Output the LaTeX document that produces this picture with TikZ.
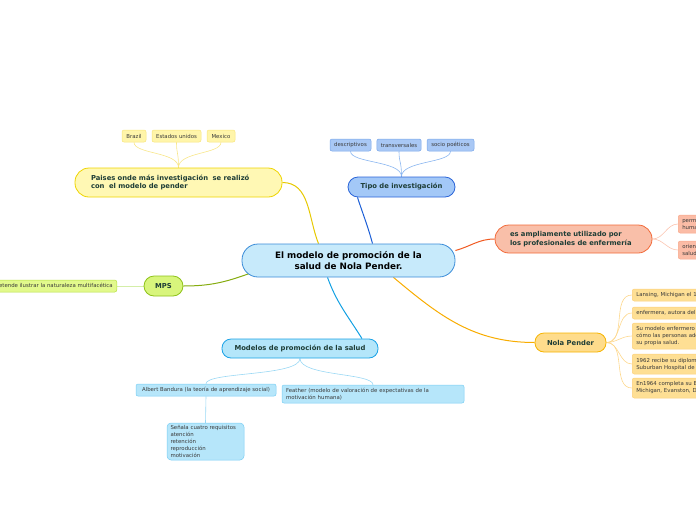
\documentclass[tikz,border=0pt]{standalone}
\usepackage{fontspec}
\setmainfont{DejaVu Sans}
\usetikzlibrary{backgrounds}

\definecolor{topictext}{HTML}{1E3D36}
\definecolor{leaftext}{HTML}{3A3A3A}
\definecolor{centrefill}{HTML}{C7EAFB}
\definecolor{centreline}{HTML}{3A8CD8}
\definecolor{tipofill}{HTML}{A3C8F7}
\definecolor{tipoline}{HTML}{2A64D8}
\definecolor{tipolink}{HTML}{1D5FD6}
\definecolor{tipoleaf}{HTML}{A9C8F5}
\definecolor{tipoleafline}{HTML}{78A6EA}
\definecolor{tipobranch}{HTML}{8AB6F0}
\definecolor{paisfill}{HTML}{FFF8B4}
\definecolor{paisline}{HTML}{EED400}
\definecolor{paislink}{HTML}{E6C800}
\definecolor{paisleaf}{HTML}{FFF5AA}
\definecolor{paisleafline}{HTML}{F8E47A}
\definecolor{paisbranch}{HTML}{F8E68A}
\definecolor{ampfill}{HTML}{F9BFA9}
\definecolor{ampline}{HTML}{F26A3A}
\definecolor{amplink}{HTML}{F05A22}
\definecolor{ampleaf}{HTML}{FBBCA6}
\definecolor{ampleafline}{HTML}{F8A88A}
\definecolor{ampbranch}{HTML}{FBC4B0}
\definecolor{nolafill}{HTML}{FEDC8C}
\definecolor{nolaline}{HTML}{F6B400}
\definecolor{nolalink}{HTML}{F8AC00}
\definecolor{nolaleaf}{HTML}{FEDF94}
\definecolor{nolaleafline}{HTML}{FDD07A}
\definecolor{nolabranch}{HTML}{FDD88E}
\definecolor{mpsfill}{HTML}{D8F57C}
\definecolor{mpsline}{HTML}{8EC21A}
\definecolor{mpslink}{HTML}{86AC10}
\definecolor{mpsleaf}{HTML}{E2F98C}
\definecolor{mpsleafline}{HTML}{B4E040}
\definecolor{mpsbranch}{HTML}{D4EEA8}
\definecolor{modfill}{HTML}{B4E6FA}
\definecolor{modline}{HTML}{1AA2E6}
\definecolor{modlink}{HTML}{12A0E2}
\definecolor{modleaf}{HTML}{B6E6FA}
\definecolor{modleafline}{HTML}{78CDF4}
\definecolor{modbranch}{HTML}{9AD8F4}

\begin{document}
\begin{tikzpicture}[x=1pt,y=1pt,
  topic/.style={draw, line width=0.8pt, rounded corners=#1, inner sep=0pt, text=topictext,
    font=\bfseries\fontsize{6.8}{8.8}\selectfont},
  topic/.default=9pt,
  leaf/.style={draw, line width=0.5pt, rounded corners=2pt, inner xsep=4pt, inner ysep=0pt,
    text=leaftext, font=\fontsize{5.4}{7}\selectfont},
  link/.style={line width=1pt},
  branch/.style={line width=0.6pt}]
\useasboundingbox (0,0) rectangle (696,-520);
\clip (0,0) rectangle (696,-520);

\node[topic=16pt, fill=centrefill, draw=centreline, text=black, align=center,
  font=\bfseries\fontsize{8.8}{11}\selectfont,
  minimum width=213pt, minimum height=33pt] (centre) at (348.5,-260.5)
  {El modelo de promoción de la\\salud de Nola Pender.};

% tipo de investigacion
\node[topic=10pt, fill=tipofill, draw=tipoline, minimum width=107pt, minimum height=20pt] (tipo) at (401.5,-187) {Tipo de investigación};
\node[leaf, fill=tipoleaf, draw=tipoleafline, minimum width=41pt, minimum height=12pt] (descr) at (350.5,-145) {descriptivos};
\node[leaf, fill=tipoleaf, draw=tipoleafline, minimum width=44pt, minimum height=12pt] (transv) at (399,-145) {transversales};
\node[leaf, fill=tipoleaf, draw=tipoleafline, minimum width=47pt, minimum height=12pt] (socio) at (450.5,-145) {socio poéticos};

% paises
\node[topic=14pt, fill=paisfill, draw=paisline, minimum height=29pt, inner xsep=16pt, text width=175pt, align=left] (paises) at (178.5,-182.5)
  {Paises onde más investigación\ \ se realizó\\con\ \ el modelo de pender};
\node[leaf, fill=paisleaf, draw=paisleafline, minimum width=24pt, minimum height=12pt] (brazil) at (134,-136) {Brazil};
\node[leaf, fill=paisleaf, draw=paisleafline, minimum width=49pt, minimum height=12pt] (estados) at (176.5,-136) {Estados unidos};
\node[leaf, fill=paisleaf, draw=paisleafline, minimum width=28pt, minimum height=12pt] (mexico) at (221,-136) {Mexico};

% ampliamente utilizado
\node[topic=14pt, fill=ampfill, draw=ampline, minimum height=28pt, inner xsep=15pt, text width=127pt, align=left] (amplio) at (573.5,-239)
  {es ampliamente utilizado por\\los profesionales de enfermería};
\node[leaf, fill=ampleaf, draw=ampleafline, minimum height=18pt, text width=160pt, align=left, anchor=west] (permite) at (678,-224)
  {permite comprender comportamientos\\humanos relacionados con la salud};
\node[leaf, fill=ampleaf, draw=ampleafline, minimum height=18pt, text width=160pt, align=left, anchor=west] (orienta) at (678,-250)
  {orienta hacia la generación de conductas\\saludables};

% nola pender
\node[topic=9pt, fill=nolafill, draw=nolaline, minimum width=71pt, minimum height=19pt] (nola) at (570.5,-342.5) {Nola Pender};
\node[leaf, fill=nolaleaf, draw=nolaleafline, minimum height=12pt, text width=200pt, align=left, anchor=west] (lansing) at (632,-295)
  {Lansing, Michigan el 16 de octubre de 1941};
\node[leaf, fill=nolaleaf, draw=nolaleafline, minimum height=12pt, text width=200pt, align=left, anchor=west] (autora) at (632,-313)
  {enfermera, autora del modelo de promoción de la salud};
\node[leaf, fill=nolaleaf, draw=nolaleafline, minimum height=26pt, text width=200pt, align=left, anchor=west] (sumodelo) at (632,-336)
  {Su modelo enfermero ayuda a comprender\\cómo las personas adoptan decisiones acerca de\\su propia salud.};
\node[leaf, fill=nolaleaf, draw=nolaleafline, minimum height=20pt, text width=200pt, align=left, anchor=west] (diploma) at (632,-364)
  {1962 recibe su diploma de enfermería en el West\\Suburban Hospital de Oak Park, Illinois};
\node[leaf, fill=nolaleaf, draw=nolaleafline, minimum height=20pt, text width=200pt, align=left, anchor=west] (bsn) at (632,-388)
  {En1964 completa su BSN en la Universidad de\\Michigan, Evanston, Detroit};

% mps
\node[topic=10pt, fill=mpsfill, draw=mpsline, minimum width=39pt, minimum height=20pt] (mps) at (163.5,-286) {MPS};
\node[leaf, fill=mpsleaf, draw=mpsleafline, minimum height=12pt, anchor=east] (pretende) at (117,-286)
  {pretende ilustrar la naturaleza multifacética};

% modelos
\node[topic=9pt, fill=modfill, draw=modline, minimum width=156pt, minimum height=19pt] (modelos) at (300,-348.5) {Modelos de promoción de la salud};
\node[leaf, fill=modleaf, draw=modleafline, minimum width=140pt, minimum height=12pt] (bandura) at (206,-390)
  {Albert Bandura (la teoría de aprendizaje social)};
\node[leaf, fill=modleaf, draw=modleafline, minimum height=18pt, text width=174pt, align=left] (feather) at (373,-394)
  {Feather (modelo de valoración de expectativas de la\\motivación humana)};
\node[leaf, fill=modleaf, draw=modleafline, rounded corners=4pt, minimum height=37pt, text width=70pt, inner xsep=3.5pt, align=left] (senala) at (205.5,-441.5)
  {Señala cuatro requisitos\\atención\\retención\\reproducción\\motivación};

\begin{pgfonlayer}{background}
\draw[link, tipolink] ([xshift=24pt]centre.north) to[out=105,in=-72] ([xshift=-44pt]tipo.south);
\draw[link, paislink] (paises.east) to[out=0,in=112] ([xshift=-30pt]centre.north);
\draw[link, amplink] ([yshift=10pt]centre.east) to[out=15,in=180] (amplio.west);
\draw[link, nolalink] ([xshift=45pt]centre.south) to[out=-40,in=180] (nola.west);
\draw[link, mpslink] ([xshift=8pt,yshift=4pt]centre.south west) to[out=200,in=0] (mps.east);
\draw[link, modlink] ([xshift=-21pt]centre.south) to[out=-70,in=122] ([xshift=62pt]modelos.north);

\foreach \leafname in {descr,transv,socio}
  \draw[branch, tipobranch] (tipo.north) .. controls +(0,16) and +(0,-12) .. (\leafname.south);
\foreach \leafname in {brazil,estados,mexico}
  \draw[branch, paisbranch] (paises.north) .. controls +(0,16) and +(0,-12) .. (\leafname.south);
\foreach \leafname in {permite,orienta}
  \draw[branch, ampbranch] (amplio.east) to[out=0,in=180] (\leafname.west);
\foreach \leafname in {lansing,autora,sumodelo,diploma,bsn}
  \draw[branch, nolabranch] (nola.east) to[out=0,in=180] (\leafname.west);
\draw[branch, mpsbranch] (pretende.east) -- (mps.west);
\foreach \leafname in {bandura,feather}
  \draw[branch, modbranch] (modelos.south) .. controls +(0,-18) and +(0,12) .. (\leafname.north);
\draw[branch, modbranch] (bandura.south) -- (senala.north);
\end{pgfonlayer}
\end{tikzpicture}
\end{document}
